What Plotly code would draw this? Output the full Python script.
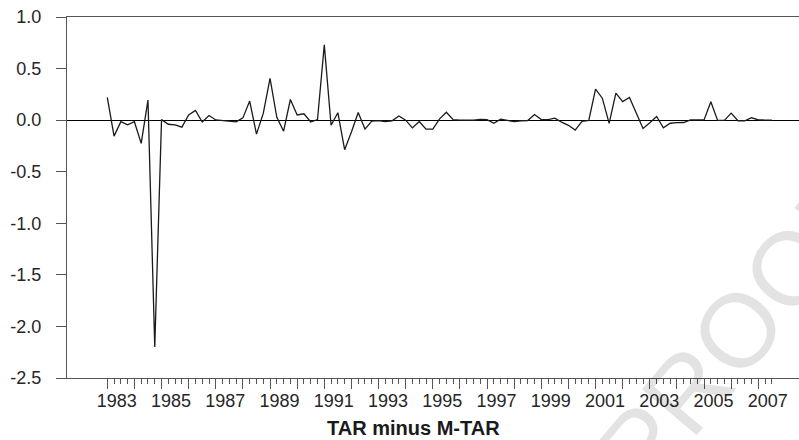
import plotly.graph_objects as go

# Quarterly series: 1983Q1 .. 2007Q3
start_year = 1983
n_quarters = 99
quarters = [(start_year + k // 4, k % 4 + 1) for k in range(n_quarters)]

values = [
    0.22, -0.155, -0.015, -0.045, -0.015, -0.225, 0.195, -2.20,
    0.005, -0.04, -0.045, -0.068, 0.05, 0.094, -0.018, 0.045,
    0.002, -0.005, -0.015, -0.016, 0.022, 0.185, -0.136, 0.065,
    0.405, 0.028, -0.107, 0.20, 0.05, 0.062, -0.018, 0.006,
    0.73, -0.05, 0.072, -0.287, -0.115, 0.074, -0.087, -0.01,
    -0.004, -0.013, -0.006, 0.04, 0.0, -0.075, -0.013, -0.087,
    -0.087, 0.012, 0.077, 0.005, 0.0, 0.0, -0.001, 0.008,
    0.005, -0.03, 0.01, -0.003, -0.015, -0.006, -0.004, 0.055,
    0.005, 0.005, 0.02, -0.02, -0.05, -0.097, -0.012, -0.003,
    0.30, 0.213, -0.032, 0.262, 0.18, 0.22, 0.07, -0.08,
    -0.025, 0.035, -0.075, -0.03, -0.024, -0.023, 0.003, 0.002,
    0.002, 0.178, -0.003, -0.002, 0.068, -0.006, -0.006, 0.023,
    0.003, 0.001, 0.0,
]

major_years = list(range(1983, 2008))
label_years = list(range(1983, 2008, 2))
y_ticks = [1.0, 0.5, 0.0, -0.5, -1.0, -1.5, -2.0, -2.5]
y_tick_text = ["1.0", "0.5", "0.0", "-0.5", "-1.0", "-1.5", "-2.0", "-2.5"]
title_text = "TAR minus M-TAR"
watermark = "PROOF"

x = [y + (q - 1) / 4 for (y, q) in quarters]
minor_vals = [y + q / 4 for y in major_years for q in (1, 2, 3) if y + q / 4 <= x[-1] + 1e-9]

x_range = [1981.515, 2008.5]
axis_col = "#555555"
text_col = "#262626"
font_fam = "Liberation Sans, Arial, sans-serif"

fig = go.Figure()
fig.add_trace(go.Scatter(
    x=x, y=values, mode="lines",
    line=dict(color="#1a1a1a", width=1.3),
    showlegend=False, hoverinfo="skip",
))
# helper trace so the label axis is drawn
fig.add_trace(go.Scatter(
    x=[x[0]], y=[values[0]], xaxis="x2", mode="markers",
    marker=dict(opacity=0), showlegend=False, hoverinfo="skip",
))

fig.update_layout(
    width=799, height=440,
    margin=dict(l=67, r=0, t=17, b=62, autoexpand=False),
    paper_bgcolor="white", plot_bgcolor="white",
    font=dict(family=font_fam, size=18, color=text_col),
    xaxis=dict(
        range=x_range, showgrid=False, zeroline=False, automargin=False,
        showline=True, linecolor=axis_col, linewidth=1, mirror=True,
        tickmode="array", tickvals=major_years, showticklabels=False,
        ticks="outside", ticklen=10, tickwidth=1, tickcolor=axis_col,
        minor=dict(tickmode="array", tickvals=minor_vals, ticks="outside",
                   ticklen=5, tickwidth=1, tickcolor=axis_col),
    ),
    xaxis2=dict(
        range=x_range, overlaying="x", anchor="y", side="bottom", automargin=False,
        showgrid=False, zeroline=False, showline=False,
        tickmode="array", tickvals=[yv + 0.35 for yv in label_years],
        ticktext=[str(yv) for yv in label_years],
        ticks="", ticklabelstandoff=10,
        tickfont=dict(size=18, color=text_col, family=font_fam),
    ),
    yaxis=dict(
        range=[-2.5, 1.0], showgrid=False, automargin=False,
        zeroline=True, zerolinecolor="#000000", zerolinewidth=1,
        showline=True, linecolor=axis_col, linewidth=1,
        tickmode="array", tickvals=y_ticks, ticktext=y_tick_text,
        ticks="outside", ticklen=10, tickwidth=1, tickcolor=axis_col,
        ticklabelstandoff=11,
        tickfont=dict(size=18, color=text_col, family=font_fam),
    ),
    annotations=[
        dict(text="<b>" + title_text + "</b>", xref="paper", yref="paper",
             x=(413 - 67) / 732, y=(378 - 428) / 361, xanchor="center", yanchor="middle",
             showarrow=False, font=dict(size=20, color="#1a1a1a", family=font_fam)),
        dict(text=watermark, xref="paper", yref="paper",
             x=(738 - 67) / 732, y=(378 - 330) / 361, xanchor="center", yanchor="middle",
             textangle=-50, showarrow=False,
             font=dict(size=104, color="rgba(0,0,0,0.11)", family=font_fam)),
    ],
)

fig.write_html(
    "out.html",
    config={"displayModeBar": False, "staticPlot": True},
    post_script="document.body.style.margin='0';document.body.style.overflow='hidden';",
)
